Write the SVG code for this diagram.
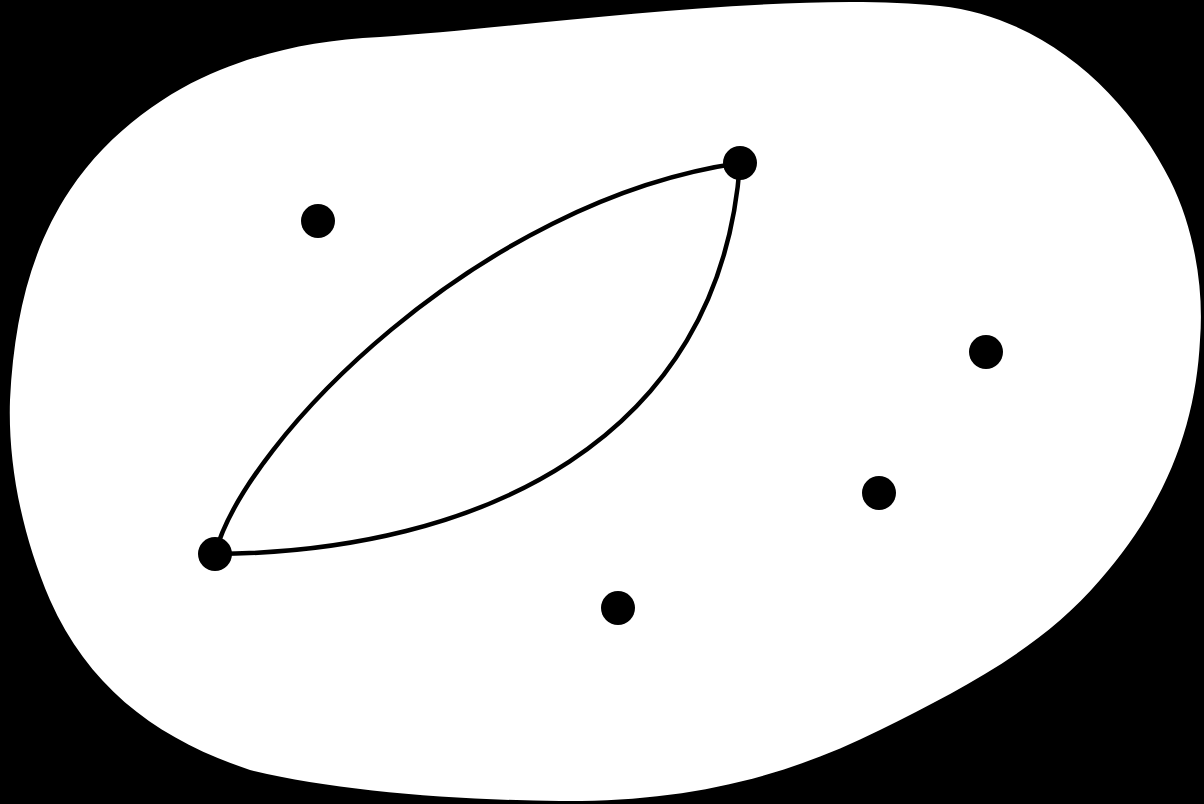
<svg xmlns="http://www.w3.org/2000/svg" width="1204" height="804" viewBox="0 0 1204 804">
<style>
.node{fill:#000}
.edge{fill:none;stroke:#000;stroke-width:4.5}
</style>
<rect x="0" y="0" width="1204" height="804" fill="#000"/>
<path id="region" d="M380,37 C520,28 780,-10 940,6 C1050,18 1130,100 1170,180 C1195,230 1204,290 1200,340 C1196,420 1170,500 1100,580 C1040,650 960,690 880,730 C780,780 680,802 560,801 C450,800 330,790 250,770 C160,740 90,690 50,600 C20,530 8,460 10,400 C14,320 30,250 70,190 C110,130 170,90 220,70 C270,50 320,40 380,37 Z" fill="#fff"/>
<g id="connectors">
<path class="edge" d="M215,554 C245,440 480,200 740,163"/>
<path class="edge" d="M215,554 C480,552 720,440 740,163"/>
</g>
<g id="n1"><circle class="node" cx="740" cy="163" r="17"/></g>
<g id="n2"><circle class="node" cx="215" cy="554" r="17"/></g>
<g id="n3"><circle class="node" cx="318" cy="221" r="17"/></g>
<g id="n4"><circle class="node" cx="986" cy="352" r="17"/></g>
<g id="n5"><circle class="node" cx="879" cy="493" r="17"/></g>
<g id="n6"><circle class="node" cx="618" cy="608" r="17"/></g>
</svg>
